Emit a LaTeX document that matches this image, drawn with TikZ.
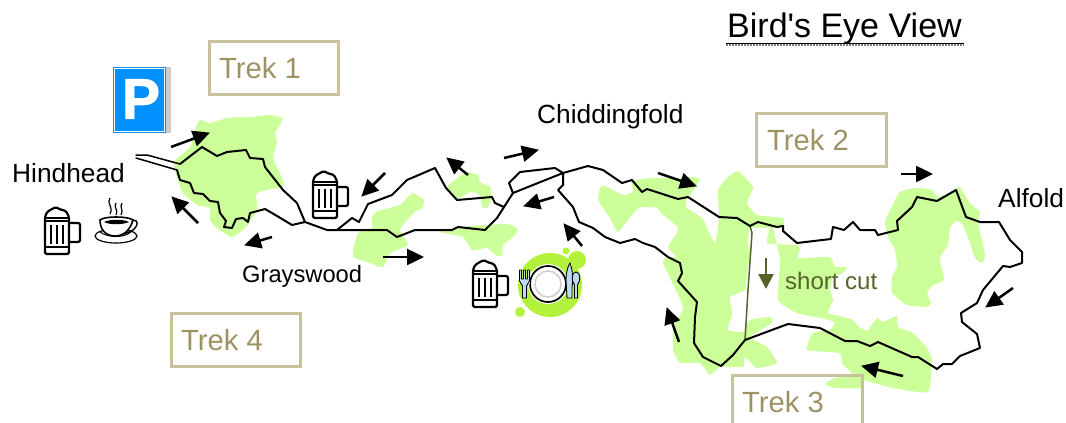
\documentclass[tikz,border=0pt]{standalone}
\usepackage{fontspec}
\setmainfont{Liberation Sans}
\newfontfamily\titlefont{Liberation Sans}
\newfontfamily\parkfont{Liberation Sans Bold}[FakeBold=1.6]
\usetikzlibrary{arrows.meta}
\definecolor{leaf}{HTML}{CCFF99}
\definecolor{boxline}{HTML}{C8C29C}
\definecolor{boxtext}{HTML}{9C9262}
\definecolor{olive}{HTML}{566429}
\definecolor{lime}{HTML}{B2F23C}
\definecolor{cutlery}{HTML}{BFD9F5}
\definecolor{parkblue}{HTML}{0090FF}
\tikzset{
  x=1pt,y=-1pt,
  wood/.style={fill=leaf,draw=none},
  trail/.style={draw=black,line width=2pt,line join=round,line cap=round},
  dir/.style={draw=black,line width=2.5pt,-{Triangle[length=17pt,width=16pt]},shorten >=-1pt},
  trekbox/.style={draw=boxline,line width=3pt},
  treklabel/.style={text=boxtext,font=\fontsize{29.2}{32}\selectfont,anchor=west,inner sep=0pt},
  place/.style={text=black,font=\fontsize{26.3}{30}\selectfont,inner sep=0pt},
  beermug/.pic={
    \draw[line width=2.2pt,line join=round,fill=white,rounded corners=2pt]
      (25,16) -- (36,16) -- (36,35) -- (25,35);
    \draw[line width=2.2pt,line join=round,rounded corners=1.5pt]
      (1,47) -- (25,47) -- (25,10) -- (22,4) -- (15,2) -- (12,0) -- (8,2) -- (3,5) -- (1,10) -- cycle;
    \draw[line width=1.5pt] (1,11) -- (25,11) (1,14) -- (25,14) (1,40) -- (25,40);
    \draw[line width=2.2pt] (7,18) -- (7,37) (13,18) -- (13,37) (19,18) -- (19,37);
  }
}
\begin{document}
\begin{tikzpicture}
\useasboundingbox (0,0) rectangle (1066,423);
% woodland
\fill[wood] plot[smooth cycle,tension=.35] coordinates {(200,120)(210,123)(227,118)(250,117)(270,115)(282,118)(280,125)(275,133)(277,143)(273,158)(283,180)(282,187)(257,193)(257,210)(245,228)(232,237)(217,228)(210,220)(210,208)(197,205)(183,193)(177,177)(174,162)(190,147)(195,130)};
\fill[wood] plot[smooth cycle,tension=.35] coordinates {(413,193)(424,200)(422,208)(415,212)(407,220)(400,230)(408,245)(390,253)(383,267)(370,263)(353,256)(358,233)(372,228)(372,217)(378,211)(400,205)(407,198)};
\fill[wood] plot[smooth cycle,tension=.35] coordinates {(467,172)(478,175)(480,182)(490,187)(492,198)(487,208)(482,207)(480,195)(470,192)(457,199)(447,188)(457,178)};
\fill[wood] plot[smooth cycle,tension=.35] coordinates {(440,232)(460,227)(507,224)(518,230)(513,237)(503,245)(502,255)(497,256)(487,248)(472,250)(463,237)};
\fill[wood] plot[smooth cycle,tension=.25] coordinates {(605,186)(623,195)(633,192)(632,182)(648,178)(672,178)(695,177)(700,180)(695,188)(686,200)(687,208)(702,218)(708,230)(715,243)(718,227)(719,215)(718,190)(727,178)(738,171)(753,187)(747,203)(757,215)(783,218)(784,225)(772,228)(750,228)(748,245)(750,255)(747,273)(745,290)(730,297)(732,313)(728,330)(743,332)(750,320)(770,317)(772,323)(750,337)(767,347)(777,363)(757,368)(745,357)(743,367)(720,367)(710,375)(700,363)(680,363)(673,350)(673,327)(683,307)(663,263)(668,257)(677,257)(668,247)(677,233)(678,227)(663,215)(657,208)(640,207)(630,217)(618,232)(610,218)(598,200)(600,188)};
\fill[wood] plot[smooth cycle,tension=.25] coordinates {(772,226)(767,243)(797,245)(800,250)(798,258)(830,257)(835,267)(847,267)(843,273)(833,277)(830,290)(833,300)(828,313)(843,317)(853,320)(860,328)(868,330)(877,318)(883,322)(897,316)(898,327)(913,333)(927,348)(932,360)(928,392)(893,388)(858,378)(842,363)(840,353)(807,350)(813,333)(830,330)(835,322)(820,318)(797,313)(778,300)(780,260)};
\fill[wood] plot[smooth cycle,tension=.3] coordinates {(825,384)(835,378)(855,376)(862,378)(862,388)(835,388)};
\fill[wood] plot[smooth cycle,tension=.3] coordinates {(900,192)(917,188)(932,190)(938,197)(955,190)(960,187)(970,203)(980,212)(978,222)(985,255)(982,263)(975,258)(970,243)(963,225)(957,221)(950,227)(948,245)(940,258)(944,280)(933,285)(927,293)(931,303)(927,307)(907,305)(892,293)(892,277)(897,267)(895,250)(888,237)(885,222)(890,210)};
% trails
\draw[olive,line width=1.5pt] (750,226) -- (752,233) -- (748,290) -- (745,340);
\draw[trail,line width=1.5pt] (136,155) -- (147,155) -- (180,164);
\draw[trail,line width=1.5pt] (136,158) -- (177,170);
\draw[trail] (180,164) -- (202,147) -- (217,156) -- (227,152) -- (246,150) -- (250,158) -- (263,159) -- (265,167) -- (283,190) -- (297,203) -- (305,222);
\draw[trail] (177,170) -- (180,180) -- (190,183) -- (194,193) -- (203,194) -- (210,201) -- (218,202) -- (220,213) -- (226,221) -- (224,227) -- (232,228) -- (236,219) -- (243,218) -- (248,222) -- (250,213) -- (265,209) -- (272,213) -- (292,225) -- (305,222) -- (327,230) -- (387,230) -- (397,237) -- (415,230) -- (452,230) -- (458,227) -- (485,230) -- (497,218) -- (513,193) -- (563,173);
\draw[trail] (337,230) -- (352,218) -- (359,222) -- (368,204) -- (392,195) -- (407,180) -- (435,168) -- (446,188) -- (457,200) -- (492,197) -- (495,203) -- (504,207);
\draw[trail] (513,193) -- (509,183) -- (520,172) -- (555,168) -- (563,173) -- (588,166) -- (603,170) -- (622,183) -- (632,180) -- (642,192) -- (647,189) -- (678,199) -- (688,197) -- (719,217) -- (737,218) -- (750,226) -- (758,222) -- (777,227) -- (783,226) -- (783,231) -- (797,243) -- (831,239) -- (833,227) -- (844,230) -- (853,222) -- (860,230) -- (875,230) -- (878,235) -- (898,230) -- (897,221) -- (912,207) -- (917,197) -- (937,201) -- (956,190) -- (966,217) -- (980,222) -- (999,222) -- (1010,240) -- (1022,252) -- (1022,263) -- (1010,267) -- (1003,266) -- (983,290) -- (977,303) -- (961,313) -- (962,322) -- (977,334) -- (980,348) -- (960,356) -- (952,364) -- (943,364) -- (937,369) -- (918,357) -- (912,357) -- (878,342) -- (870,346) -- (857,341) -- (845,341) -- (820,328) -- (788,324) -- (745,340) -- (733,355) -- (721,366) -- (703,357) -- (694,343) -- (695,317) -- (697,302) -- (678,281) -- (682,273) -- (680,263) -- (668,257) -- (655,247) -- (643,243) -- (635,239) -- (620,243) -- (605,237) -- (593,228) -- (579,222) -- (573,207) -- (558,190) -- (563,185) -- (563,173);
% direction arrows
\draw[dir] (171,147) -- (209,133);
\draw[dir] (198,223) -- (172,197);
\draw[dir] (272,237) -- (245,245);
\draw[dir] (385,173) -- (362,196);
\draw[dir] (468,175) -- (447,158);
\draw[dir] (504,158) -- (538,150);
\draw[dir] (554,197) -- (524,206);
\draw[dir] (383,257) -- (423,257);
\draw[dir] (582,246) -- (564,224);
\draw[dir] (658,173) -- (696,186);
\draw[dir] (679,342) -- (667,308);
\draw[dir] (901,174) -- (932,174);
\draw[dir] (1013,288) -- (986,307);
\draw[dir] (903,376) -- (862,366);
\draw[dir,draw=olive,fill=olive,-{Triangle[length=15pt,width=15pt]},shorten >=0pt] (766,258) -- (766,289);
% trek boxes
\draw[trekbox] (209,41) rectangle (338,94);
\draw[trekbox] (756,113) rectangle (886,166);
\draw[trekbox] (732,430) -- (732,375) -- (862,375) -- (862,430);
\draw[trekbox] (171,313) rectangle (300,366);
\node[treklabel] (t1) at (219,68) {Trek 1};
\node[treklabel] (t2) at (767,140) {Trek 2};
\node[treklabel] (t3) at (742,402) {Trek 3};
\node[treklabel] (t4) at (181,340) {Trek 4};
% place names
\node[place,anchor=west] (hind) at (12,173) {Hindhead};
\node[place,anchor=west] (chid) at (537,117) {Chiddingfold};
\node[place,anchor=west] (alf) at (998,198) {Alfold};
\node[place,anchor=west,font=\fontsize{23.7}{28}\selectfont] (gray) at (242,276) {Grayswood};
\node[anchor=west,inner sep=0pt,text=olive,font=\fontsize{24}{28}\selectfont] (cut) at (785,281) {short cut};
% title
\node[anchor=west,inner sep=0pt,font=\titlefont\fontsize{34}{38}\selectfont] (title) at (727,29) {Bird's Eye View};
\draw[line width=1pt] (726,43) -- (964,43);
\draw[gray,line width=1.2pt,dash pattern=on 1.5pt off 1.5pt] (726,45) -- (964,45);
% parking sign
\fill[black!20] (166,67) rectangle (171,133);
\fill[parkblue] (113,67) rectangle (166,133);
\draw[white,line width=.8pt] (114.5,68.5) rectangle (164.5,131.5);
\node[inner sep=0pt,text=white,font=\parkfont\fontsize{57}{60}\selectfont] (park) at (141,99) {P};
% mugs
\pic at (44,207) {beermug};
\pic at (312,171) {beermug};
\pic at (472,260) {beermug};
% coffee cup
\draw[line width=1.2pt,fill=white] (116,236) ellipse [x radius=21,y radius=7];
\draw[line width=1pt] (100,232) .. controls (108,238) and (124,238) .. (131,232);
\draw[line width=1.4pt] (128,223) .. controls (136,217) and (140,222) .. (135,228) .. controls (133,231) and (129,232) .. (124,234);
\draw[line width=1.6pt,fill=white] (100,220) .. controls (100,230) and (106,236) .. (115,236) .. controls (124,236) and (130,230) .. (133,220) .. controls (128,216) and (104,216) .. cycle;
\fill[black] (104,222) .. controls (110,219) and (123,219) .. (129,222) .. controls (122,225) and (110,225) .. cycle;
\draw[line width=1.2pt] (110,198) .. controls (106,203) and (114,207) .. (110,214);
\draw[line width=1.2pt] (116,203) .. controls (113,207) and (119,210) .. (116,215);
\draw[line width=1.2pt] (122,203) .. controls (119,207) and (124,210) .. (121,215);
% meal badge
\fill[lime] (550,285) circle (32);
\fill[lime] (566,251) circle (3.5);
\fill[lime] (577,260) circle (9);
\fill[lime] (520,312) circle (5);
\fill[white] (548,284) circle (20);
\draw[line width=1.7pt] (548,284) circle (18);
\draw[black!20,line width=1.4pt] (548,284) circle (13);
% fork
\begin{scope}[xshift=1.5pt]
\draw[white,line width=3.5pt,line join=round] (519,271) -- (519,284) (523,271) -- (523,298) (527,271) -- (527,284);
\draw[line width=.9pt,fill=cutlery,line join=round] (518,270) -- (520,270) -- (520,279) -- (522,279) -- (522,270) -- (524,270) -- (524,279) -- (526,279) -- (526,270) -- (528,270) -- (528,281) -- (525,286) -- (525,298) -- (521,298) -- (521,286) -- (518,281) -- cycle;
\end{scope}
% knife
\draw[white,line width=3pt,line join=round] (570,264) -- (570,298);
\draw[line width=.9pt,fill=cutlery,line join=round] (570,263) .. controls (573,270) and (573,282) .. (572,287) -- (572,298) -- (567,298) -- (566,280) .. controls (566,272) and (568,266) .. (570,263) -- cycle;
% spoon
\draw[white,line width=3pt] (576,274) -- (576,298);
\draw[line width=.9pt,fill=cutlery] (574.5,298) -- (574.5,285) .. controls (570.5,280) and (572,272) .. (576,272) .. controls (580,272) and (581.5,280) .. (577.5,285) -- (577.5,298) -- cycle;
\end{tikzpicture}
\end{document}
